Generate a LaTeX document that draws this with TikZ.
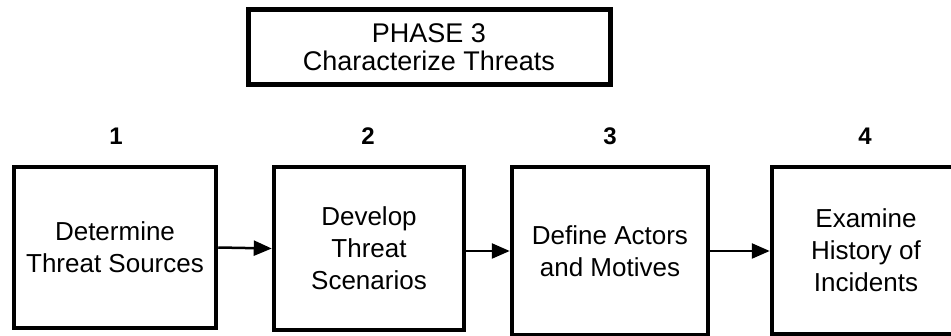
\documentclass[tikz,border=0pt]{standalone}
\usepackage{fontspec}
\setmainfont{Liberation Sans}
\usetikzlibrary{arrows.meta}

\tikzset{
  phasebox/.style={draw, line width=5pt, minimum width=362pt, minimum height=75pt,
    align=center, inner sep=0pt, font=\fontsize{27}{28}\selectfont},
  stepbox/.style={draw, line width=4.5pt, align=center, inner sep=0pt,
    font=\fontsize{26}{32}\selectfont},
  stepnum/.style={font=\bfseries\fontsize{24}{26}\selectfont, inner sep=0pt},
  flow/.style={line width=2.5pt, -{Triangle[length=18pt, width=15pt]}}
}

\begin{document}
\begin{tikzpicture}[x=1pt, y=-1pt]
  \useasboundingbox (0,0) rectangle (951,336);
  \fill[white] (0,0) rectangle (951,336);

  % phase heading
  \node[phasebox] (phase) at (429,47.5) {PHASE 3\\Characterize Threats};

  % step numbers
  \node[stepnum] (n1) at (116,136) {1};
  \node[stepnum] (n2) at (368,136) {2};
  \node[stepnum] (n3) at (610,136) {3};
  \node[stepnum] (n4) at (865,136) {4};

  % step boxes
  \node[stepbox, minimum width=202pt, minimum height=161pt] (s1) at (115,247.5)
    {Determine\\Threat Sources};
  \node[stepbox, minimum width=190pt, minimum height=163pt] (s2) at (369,248.5)
    {Develop\\Threat\\Scenarios};
  \node[stepbox, minimum width=196pt, minimum height=168pt] (s3) at (610,251)
    {Define Actors\\and Motives};
  \node[stepbox, minimum width=188pt, minimum height=167pt] (s4) at (866,250.5)
    {Examine\\History of\\Incidents};

  % flow between steps
  \draw[flow] (s1.east) -- (s2.west);
  \draw[flow] (s2.east |- s3.west) -- (s3.west);
  \draw[flow] (s3.east) -- (s4.west |- s3.east);
\end{tikzpicture}
\end{document}
